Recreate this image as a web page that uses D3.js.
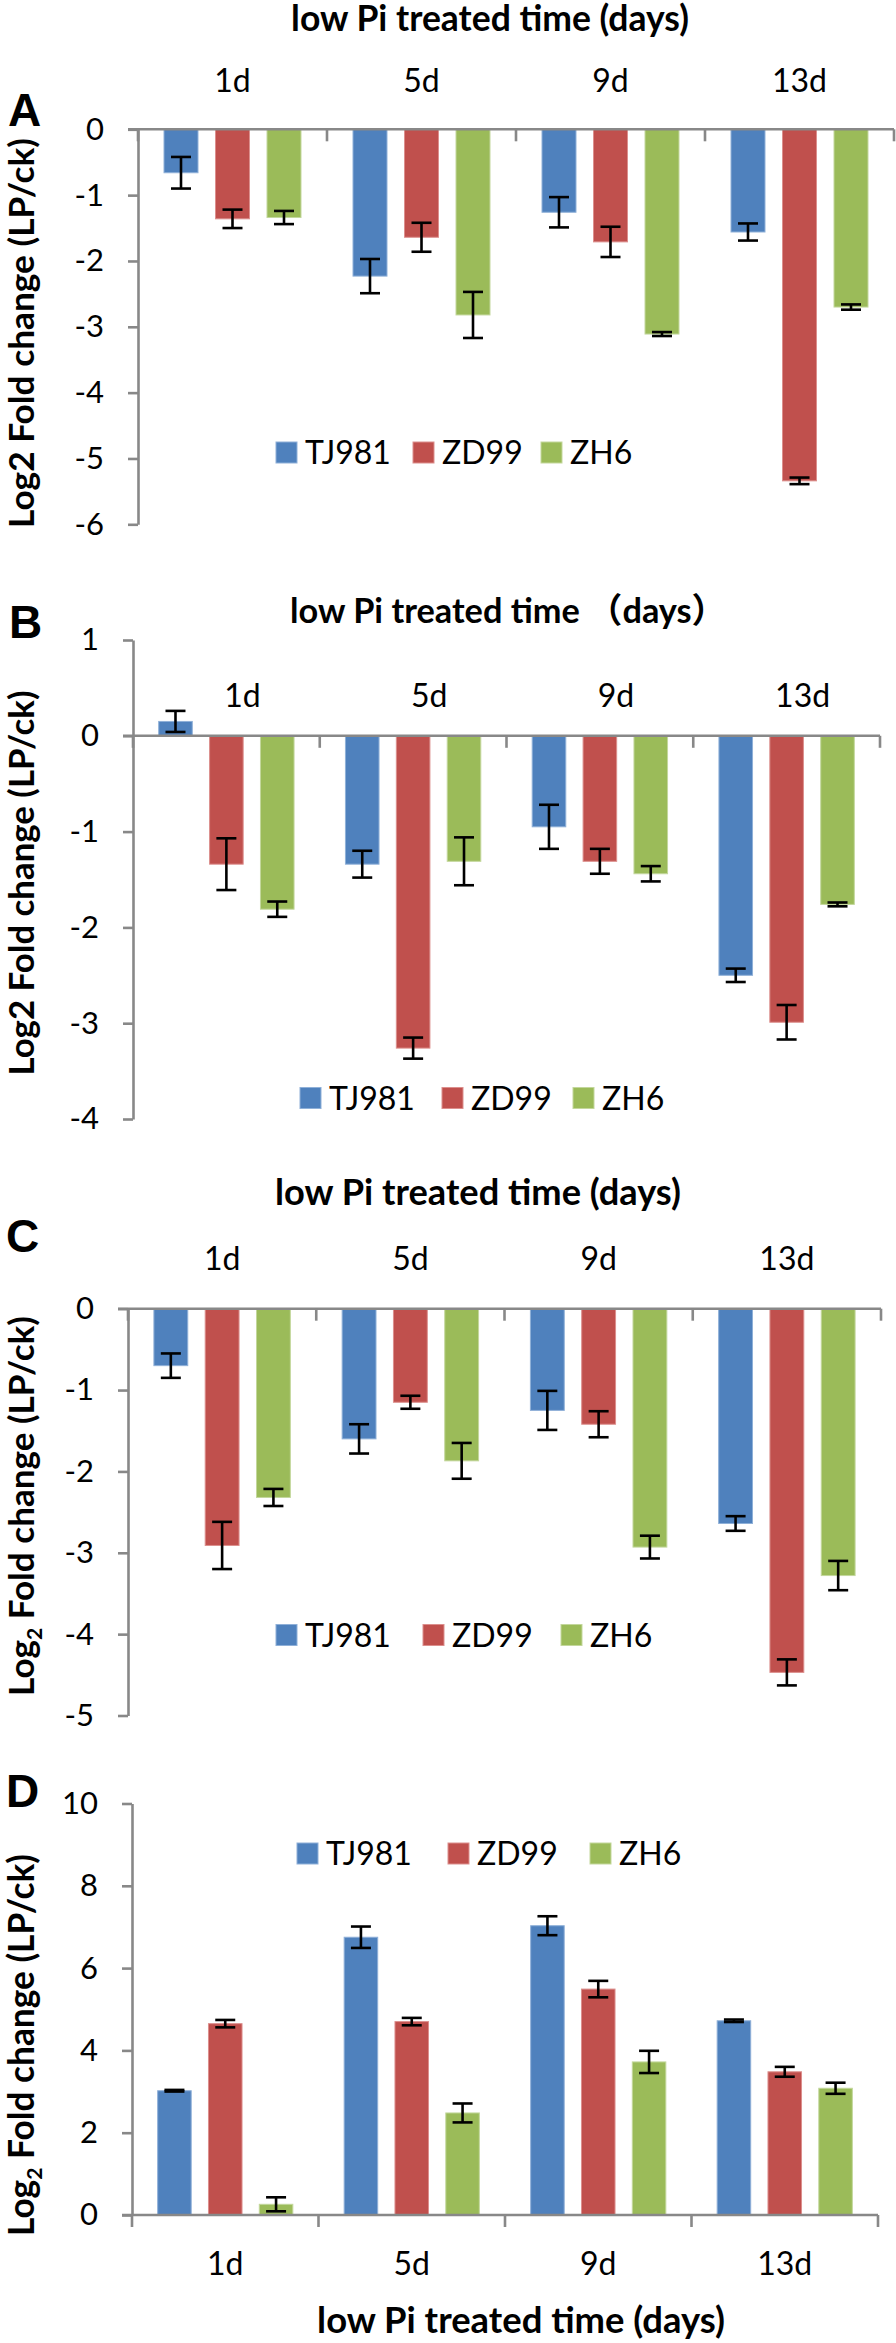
<!DOCTYPE html>
<html>
<head>
<meta charset="utf-8">
<script src="https://cdn.jsdelivr.net/npm/d3@7"></script>
<style>
  body { margin: 0; background: #fff; }
  svg text { font-family: Lato, "Noto Sans CJK SC", sans-serif; fill: #000; }
</style>
</head>
<body>
<svg id="chart" width="896" height="2343"></svg>
<script>
// data (rows = TJ981, ZD99, ZH6; columns = 1d, 5d, 9d, 13d)
var categories = ["1d", "5d", "9d", "13d"];
var series = ["TJ981", "ZD99", "ZH6"];
var colors = ["#4f81bd", "#c0504d", "#9bbb59"];
var edges = ["#8fb0d8", "#dc8f8d", "#c3d79c"];

var valuesA = [[-0.66, -2.23, -1.26, -1.56], [-1.36, -1.64, -1.71, -5.34], [-1.34, -2.82, -3.11, -2.70]];
var errorsA = [[0.24, 0.26, 0.23, 0.13], [0.14, 0.22, 0.23, 0.05], [0.10, 0.35, 0.03, 0.04]];
var valuesB = [[0.15, -1.34, -0.95, -2.50], [-1.34, -3.26, -1.31, -2.99], [-1.81, -1.31, -1.44, -1.76]];
var errorsB = [[0.11, 0.14, 0.23, 0.07], [0.27, 0.11, 0.13, 0.18], [0.08, 0.25, 0.08, 0.02]];
var valuesC = [[-0.70, -1.60, -1.25, -2.64], [-2.91, -1.15, -1.42, -4.47], [-2.32, -1.87, -2.93, -3.28]];
var errorsC = [[0.15, 0.18, 0.24, 0.09], [0.29, 0.08, 0.16, 0.16], [0.105, 0.22, 0.14, 0.18]];
var valuesD = [[3.02, 6.75, 7.03, 4.72], [4.65, 4.70, 5.49, 3.48], [0.26, 2.48, 3.72, 3.08]];
var errorsD = [[0.02, 0.26, 0.23, 0.03], [0.09, 0.09, 0.20, 0.12], [0.17, 0.23, 0.27, 0.135]];

var ticksA = [0, -1, -2, -3, -4, -5, -6];
var ticksB = [1, 0, -1, -2, -3, -4];
var ticksC = [0, -1, -2, -3, -4, -5];
var ticksD = [10, 8, 6, 4, 2, 0];

var titleA = "low Pi treated time (days)";
var titleB = "low Pi treated time \uff08days\uff09";

var panels = [
  {letter: "A", values: valuesA, errors: errorsA, ticks: ticksA, title: titleA, sub: false,
   x0: 138, x1: 894, yTop: 129.3, yBot: 524.3, catY: 92, catDx: 0,
   titleX: 490, titleY: 31, titleW: 398, letterX: 8, letterY: 126,
   labelY: 333, labelW: 390, legendY: 452.5, legendX: [276, 413, 541]},
  {letter: "B", values: valuesB, errors: errorsB, ticks: ticksB, title: titleB, sub: false,
   x0: 133, x1: 880, yTop: 640, yBot: 1119, catY: 707, catDx: 16,
   titleX: 508, titleY: 622.5, titleW: 436, letterX: 9, letterY: 638,
   labelY: 883, labelW: 385, legendY: 1098, legendX: [300, 442, 573]},
  {letter: "C", values: valuesC, errors: errorsC, ticks: ticksC, title: titleA, sub: true,
   x0: 128, x1: 881, yTop: 1308.7, yBot: 1715.5, catY: 1270, catDx: 0,
   titleX: 478, titleY: 1205, titleW: 406, letterX: 6, letterY: 1252,
   labelY: 1506, labelW: 380, legendY: 1635, legendX: [276, 423, 561]},
  {letter: "D", values: valuesD, errors: errorsD, ticks: ticksD, title: titleA, sub: true,
   x0: 132, x1: 878, yTop: 1803.5, yBot: 2215, catY: 2275, catDx: 0,
   titleX: 521, titleY: 2333, titleW: 408, letterX: 6, letterY: 1807,
   labelY: 2045, labelW: 382, legendY: 1853.5, legendX: [297, 448, 590]}
];

var svg = d3.select("#chart");
var axisColor = "#888888";

function fitWidth(sel, w) {
  var fs = parseFloat(sel.attr("font-size"));
  var len = sel.node().getComputedTextLength();
  if (len > 0) sel.attr("font-size", fs * w / len);
}

panels.forEach(function(p) {
  var g = svg.append("g");

  var y = d3.scaleLinear()
      .domain([d3.max(p.ticks), d3.min(p.ticks)])
      .range([p.yTop, p.yBot]);
  var x = d3.scaleBand().domain(categories).range([p.x0, p.x1]).padding(0);
  var xs = d3.scaleBand().domain(series).range([0, x.bandwidth()])
      .paddingInner(0.34).paddingOuter(0.505);

  // bars
  series.forEach(function(s, i) {
    var rows = categories.map(function(c, j) {
      return {cat: c, v: p.values[i][j], e: p.errors[i][j]};
    });
    g.append("g").selectAll("rect")
      .data(rows)
      .join("rect")
        .attr("x", function(d) { return x(d.cat) + xs(s); })
        .attr("y", function(d) { return Math.min(y(d.v), y(0)); })
        .attr("width", xs.bandwidth())
        .attr("height", function(d) { return Math.abs(y(d.v) - y(0)); })
        .attr("fill", colors[i])
        .attr("stroke", edges[i])
        .attr("stroke-width", 1);

    // error bars
    var eb = g.append("g").attr("stroke", "#000").attr("stroke-width", 2.6)
      .selectAll("g").data(rows).join("g")
        .attr("transform", function(d) { return "translate(" + (x(d.cat) + xs(s) + xs.bandwidth() / 2) + ",0)"; });
    eb.append("line")
        .attr("y1", function(d) { return y(d.v + d.e); })
        .attr("y2", function(d) { return y(d.v - d.e); });
    eb.append("line").attr("x1", -10).attr("x2", 10)
        .attr("y1", function(d) { return y(d.v + d.e); })
        .attr("y2", function(d) { return y(d.v + d.e); });
    eb.append("line").attr("x1", -10).attr("x2", 10)
        .attr("y1", function(d) { return y(d.v - d.e); })
        .attr("y2", function(d) { return y(d.v - d.e); });
  });

  // y axis
  var ya = g.append("g")
      .attr("transform", "translate(" + p.x0 + ",0)")
      .call(d3.axisLeft(y).tickValues(p.ticks).tickSize(10).tickSizeOuter(0)
        .tickPadding(24).tickFormat(function(d) { return String(d); }));
  ya.select(".domain").attr("stroke", axisColor).attr("stroke-width", 2.6);
  ya.selectAll(".tick line").attr("stroke", axisColor).attr("stroke-width", 2.6);
  ya.selectAll(".tick text").attr("font-size", 31).attr("font-family", "Lato").attr("fill", "#000");

  // zero line and category ticks
  var bounds = [p.x0].concat(categories.map(function(c) { return x(c) + x.bandwidth(); }));
  g.append("line")
      .attr("x1", p.x0 - 10).attr("x2", p.x1)
      .attr("y1", y(0)).attr("y2", y(0))
      .attr("stroke", axisColor).attr("stroke-width", 2.6);
  g.append("g").selectAll("line")
    .data(bounds)
    .join("line")
      .attr("x1", function(d) { return d; }).attr("x2", function(d) { return d; })
      .attr("y1", y(0)).attr("y2", y(0) + 12)
      .attr("stroke", axisColor).attr("stroke-width", 2.6);

  // category labels
  g.append("g").selectAll("text")
    .data(categories)
    .join("text")
      .attr("x", function(d) { return x(d) + x.bandwidth() / 2 + p.catDx; })
      .attr("y", p.catY)
      .attr("text-anchor", "middle")
      .attr("font-size", 32)
      .text(function(d) { return d; });

  // title (x axis name)
  var t = g.append("text")
      .attr("x", p.titleX).attr("y", p.titleY)
      .attr("text-anchor", "middle")
      .attr("font-size", 34).attr("font-weight", "bold")
      .text(p.title);
  fitWidth(t, p.titleW);

  // y label
  var yl = g.append("text")
      .attr("transform", "translate(34," + p.labelY + ") rotate(-90)")
      .attr("text-anchor", "middle")
      .attr("font-size", 34).attr("font-weight", "bold");
  if (p.sub) {
    yl.append("tspan").text("Log");
    yl.append("tspan").attr("font-size", "0.6em").attr("dy", 8).text("2");
    yl.append("tspan").attr("dy", -8).text(" Fold change (LP/ck)");
  } else {
    yl.text("Log2 Fold change (LP/ck)");
  }
  fitWidth(yl, p.labelW);

  // panel letter
  g.append("text")
      .attr("x", p.letterX).attr("y", p.letterY)
      .attr("font-size", 46).attr("font-weight", "bold")
      .style("font-family", "'Liberation Sans', Arial, sans-serif")
      .text(p.letter);

  // legend
  var lg = g.append("g").selectAll("g")
    .data(series)
    .join("g")
      .attr("transform", function(d, i) { return "translate(" + p.legendX[i] + "," + p.legendY + ")"; });
  lg.append("rect")
      .attr("x", 0).attr("y", -10.5)
      .attr("width", 21).attr("height", 21)
      .attr("fill", function(d, i) { return colors[i]; })
      .attr("stroke", function(d, i) { return edges[i]; })
      .attr("stroke-width", 1);
  lg.append("text")
      .attr("x", 29).attr("y", 11.5)
      .attr("font-size", 32)
      .text(function(d) { return d; });
});
</script>
</body>
</html>
